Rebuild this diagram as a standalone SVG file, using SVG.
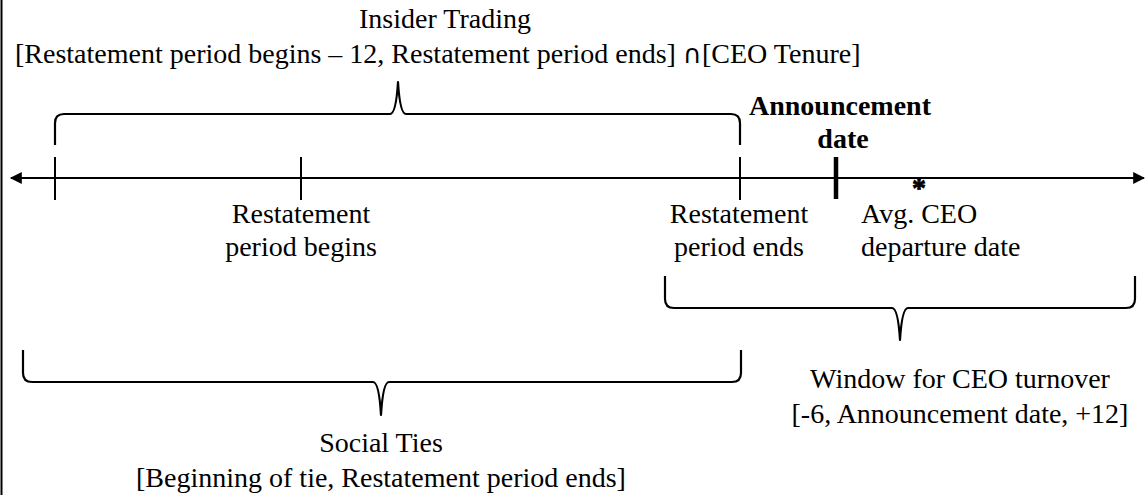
<svg xmlns="http://www.w3.org/2000/svg" width="1145" height="495" viewBox="0 0 1145 495">
<style>
text{font-family:"Liberation Serif","Times New Roman",serif;font-size:28px;fill:#000}
.b{font-weight:bold}
.m{text-anchor:middle}
.sym{font-family:"DejaVu Sans",sans-serif;font-size:26px}
.ln{stroke:#000;stroke-width:2;fill:none}
.br{stroke:#000;stroke-width:2.2;fill:none;stroke-linejoin:round}
</style>
<defs>
<marker id="ah" viewBox="0 0 10 10" refX="9" refY="5" markerWidth="15" markerHeight="12" markerUnits="userSpaceOnUse" orient="auto-start-reverse">
<path d="M0,0 L10,5 L0,10 z" fill="#000"/>
</marker>
</defs>
<line x1="1.5" y1="0" x2="1.5" y2="495" stroke="#000" stroke-width="2"/>
<g id="connectors">
<line class="ln" x1="11" y1="178" x2="1144" y2="178" marker-start="url(#ah)" marker-end="url(#ah)"/>
<line class="ln" x1="55" y1="157" x2="55" y2="200"/>
<line class="ln" x1="301" y1="157" x2="301" y2="200"/>
<line class="ln" x1="740" y1="157" x2="740" y2="200"/>
<line x1="836" y1="157" x2="836" y2="199" stroke="#000" stroke-width="4.5"/>
<path class="br" d="M55,145 L55,123 Q55,114 64,114 L390,114 Q396,114 398,82 Q400,114 406,114 L731,114 Q740,114 740,123 L740,145"/>
<path class="br" d="M665,276 L665,299 Q665,308 674,308 L892,308 Q898,308 900,340 Q902,308 908,308 L1126,308 Q1135,308 1135,299 L1135,276"/>
<path class="br" d="M23,350 L23,373 Q23,382 32,382 L373,382 Q379,382 381,415 Q383,382 389,382 L732,382 Q741,382 741,373 L741,350"/>
</g>
<g id="insider-trading">
<text class="m" x="445" y="28">Insider Trading</text>
<text x="15" y="63">[Restatement period begins – 12, Restatement period ends] <tspan class="sym">∩</tspan>[CEO Tenure]</text>
</g>
<g id="announcement">
<text class="m b" x="840" y="115">Announcement</text>
<text class="m b" x="843" y="148">date</text>
</g>
<g id="avg-departure">
<text x="919" y="197" font-size="48" class="b" text-anchor="middle" stroke="#000" stroke-width="0.8">*</text>
<text x="861" y="223">Avg. CEO</text>
<text x="861" y="256">departure date</text>
</g>
<g id="restatement-begins">
<text class="m" x="301" y="223">Restatement</text>
<text class="m" x="301" y="256">period begins</text>
</g>
<g id="restatement-ends">
<text class="m" x="739" y="223">Restatement</text>
<text class="m" x="739" y="256">period ends</text>
</g>
<g id="window">
<text class="m" x="960" y="388">Window for CEO turnover</text>
<text class="m" x="960" y="423">[-6, Announcement date, +12]</text>
</g>
<g id="social-ties">
<text class="m" x="381" y="452">Social Ties</text>
<text class="m" x="381" y="487">[Beginning of tie, Restatement period ends]</text>
</g>
</svg>
